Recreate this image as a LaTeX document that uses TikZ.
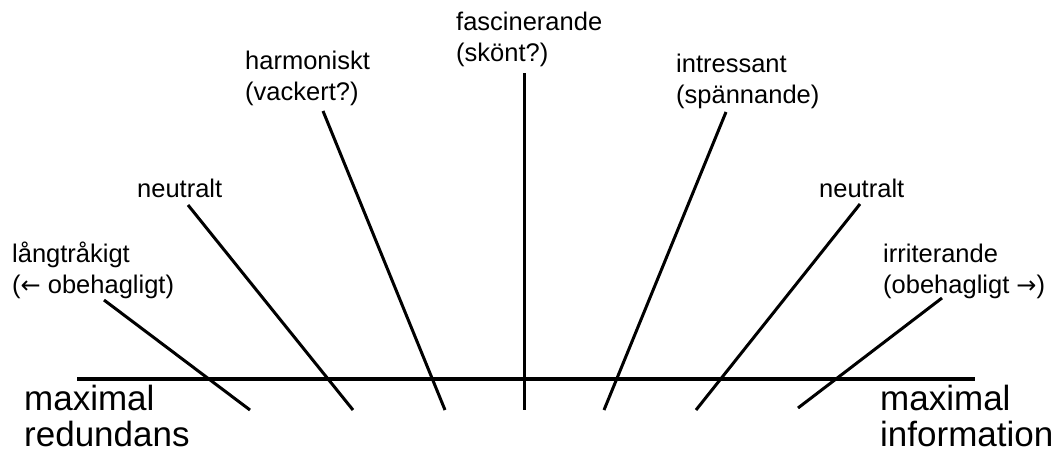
\documentclass[tikz,border=0pt]{standalone}
\usepackage{fontspec}
\setmainfont{Liberation Sans}
\newfontfamily\symfont{DejaVu Sans}
\begin{document}
\begin{tikzpicture}[x=1pt,y=-1pt,
  lab/.style={inner sep=0pt,anchor=base west,align=left,font=\fontsize{25.5}{31}\selectfont},
  big/.style={inner sep=0pt,anchor=base west,align=left,font=\fontsize{35}{36}\selectfont},
  ray/.style={line width=3pt,black},
  axis/.style={line width=3.6pt,black}]
\useasboundingbox (0,0) rectangle (1057,452);
% labels (anchor = baseline of the last line)
\node[lab] (l1) at (12,293) {långtråkigt\\({\symfont\fontsize{24}{25}\selectfont ←} obehagligt)};
\node[lab] (l2) at (137,197) {neutralt};
\node[lab] (l3) at (245,100) {harmoniskt\\(vackert?)};
\node[lab] (l4) at (456,62) {fascinerande\\(skönt?)};
\node[lab] (l5) at (676,103) {intressant\\(spännande)};
\node[lab] (l6) at (819,197) {neutralt};
\node[lab] (l7) at (883,293) {irriterande\\(obehagligt {\symfont\fontsize{24}{25}\selectfont →})};
\node[big] (rl) at (24,446) {maximal\\redundans};
\node[big] (rr) at (880,446) {maximal\\information};
% axis
\coordinate (aL) at (77,379);
\coordinate (aR) at (975,379);
\draw[axis] (aL) -- (aR);
% rays
\coordinate (t1) at (104,300); \coordinate (b1) at (250,410);
\coordinate (t2) at (188,205); \coordinate (b2) at (353,410);
\coordinate (t3) at (323,111); \coordinate (b3) at (445,410);
\coordinate (t4) at (524,73);  \coordinate (b4) at (524,410);
\coordinate (t5) at (726,112); \coordinate (b5) at (604,410);
\coordinate (t6) at (860,204); \coordinate (b6) at (696,410);
\coordinate (t7) at (942,298); \coordinate (b7) at (798,408);
\foreach \i in {1,...,7} {\draw[ray] (t\i) -- (b\i);}
\end{tikzpicture}
\end{document}
